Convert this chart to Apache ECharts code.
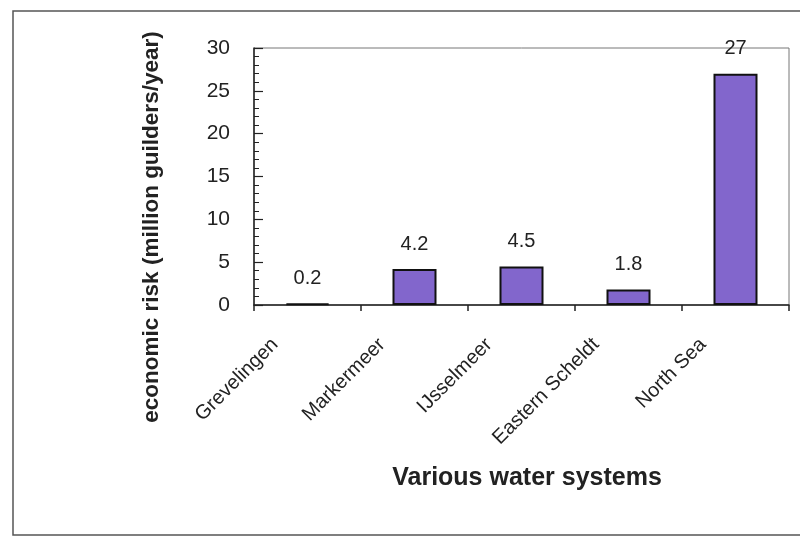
<!DOCTYPE html>
<html>
<head>
<meta charset="utf-8">
<script src="https://cdn.jsdelivr.net/npm/echarts@6/dist/echarts.min.js"></script>
<style>
html,body{margin:0;padding:0;background:#fff;}
#chart{width:800px;height:538px;}
</style>
</head>
<body>
<div id="chart"></div>
<script>
const categories = ["Grevelingen", "Markermeer", "IJsselmeer", "Eastern Scheldt", "North Sea"];
const values = [0.2, 4.2, 4.5, 1.8, 27];
const valueLabels = ["0.2", "4.2", "4.5", "1.8", "27"];
const yTicks = [0, 5, 10, 15, 20, 25, 30];
const yTitle = "economic risk (million guilders/year)";
const xTitle = "Various water systems";

const chart = echarts.init(document.getElementById('chart'), null, {renderer: 'canvas'});
const FONT = 'Liberation Sans, Arial, sans-serif';

chart.setOption({
  animation: false,
  backgroundColor: '#ffffff',
  grid: {left: 254, top: 48, right: 11, bottom: 233, show: true, borderColor: '#777', borderWidth: 1},
  xAxis: {
    type: 'category',
    data: categories,
    axisLine: {lineStyle: {color: '#222', width: 1.5}},
    axisTick: {show: true, inside: false, length: 6, lineStyle: {color: '#222', width: 1.5}},
    axisLabel: {
      rotate: 45, margin: 4, interval: 0,
      padding: [0, 46, 0, 0],
      color: '#222', fontFamily: FONT, fontSize: 20
    },
    splitLine: {show: false}
  },
  yAxis: {
    type: 'value',
    min: yTicks[0], max: yTicks[yTicks.length - 1], interval: 5,
    axisLine: {show: true, lineStyle: {color: '#222', width: 1.5}},
    axisTick: {show: true, inside: true, length: 9, lineStyle: {color: '#222', width: 1.2}},
    minorTick: {show: true, splitNumber: 5, length: 5, lineStyle: {color: '#222', width: 1}},
    axisLabel: {margin: 24, color: '#222', fontFamily: FONT, fontSize: 21,
      formatter: v => yTicks.includes(v) ? String(v) : ''},
    splitLine: {show: false}
  },
  series: [{
    type: 'bar',
    data: values,
    barWidth: 44,
    itemStyle: {color: '#8266CC', borderColor: '#111', borderWidth: 2},
    label: {
      show: true, position: 'top', distance: 15,
      color: '#222', fontFamily: FONT, fontSize: 20,
      formatter: p => valueLabels[p.dataIndex]
    }
  }],
  graphic: [
    {type: 'rect', shape: {x: 13, y: 11, width: 800, height: 524},
     style: {fill: 'none', stroke: '#555', lineWidth: 1.5}, z: -1},
    {type: 'text', x: 152, y: 227, rotation: Math.PI / 2,
     style: {text: yTitle, fill: '#222', font: 'bold 22.5px ' + FONT,
       textAlign: 'center', textVerticalAlign: 'middle'}},
    {type: 'text', x: 527, y: 478,
     style: {text: xTitle, fill: '#222', font: 'bold 25px ' + FONT,
       textAlign: 'center', textVerticalAlign: 'middle'}}
  ]
});
</script>
</body>
</html>
